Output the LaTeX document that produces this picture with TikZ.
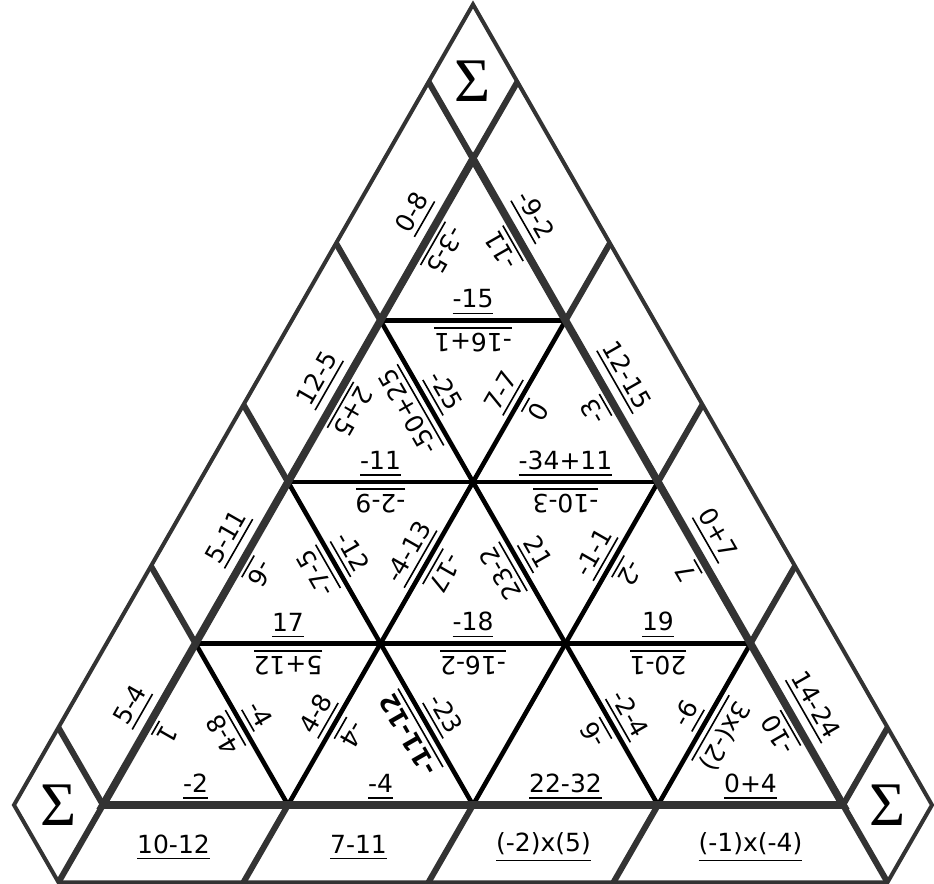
\documentclass[tikz,border=0pt]{standalone}
\usepackage{fontspec}
\setmainfont{DejaVu Sans}
\newfontfamily\sigmafont{Liberation Serif}
\definecolor{rimgray}{HTML}{333333}
\newcommand{\lblfont}{\fontsize{12.5}{15}\selectfont}
\newcommand{\tline}[1]{\vtop{\hbox{#1}\kern2.2pt\hrule height 0.8pt}}

\tikzset{
  tileline/.style={black, line width=2.3pt},
  rim/.style={rimgray, line width=3.8pt},
  band/.style={rimgray, line width=2pt},
  cut/.style={rimgray, line width=3pt},
  ans/.style={sloped, allow upside down, above, inner sep=3pt, font=\lblfont},
  bandans/.style={ans, inner sep=5.5pt},
  bottomans/.style={inner sep=0pt, font=\lblfont},
  sig/.style={inner sep=0pt, font=\sigmafont\fontsize{31}{34}\selectfont},
}

\begin{document}
\begin{tikzpicture}[x=0.5pt, y=0.5pt]
    \useasboundingbox (0,0) rectangle (934,-884);

    \coordinate (v00) at (473,-159);
    \coordinate (v10) at (380.5,-320.5);
    \coordinate (v11) at (565.5,-320.5);
    \coordinate (v20) at (288,-482);
    \coordinate (v21) at (473,-482);
    \coordinate (v22) at (658,-482);
    \coordinate (v30) at (195.5,-643.5);
    \coordinate (v31) at (380.5,-643.5);
    \coordinate (v32) at (565.5,-643.5);
    \coordinate (v33) at (750.5,-643.5);
    \coordinate (v40) at (103,-805);
    \coordinate (v41) at (288,-805);
    \coordinate (v42) at (473,-805);
    \coordinate (v43) at (658,-805);
    \coordinate (v44) at (843,-805);

    \coordinate (left0) at (428.5,-81.7);
    \coordinate (left1) at (336,-243.2);
    \coordinate (left2) at (243.5,-404.7);
    \coordinate (left3) at (151,-566.2);
    \coordinate (left4) at (58.5,-727.7);
    \coordinate (right0) at (517.5,-81.7);
    \coordinate (right1) at (610,-243.2);
    \coordinate (right2) at (702.5,-404.7);
    \coordinate (right3) at (795,-566.2);
    \coordinate (right4) at (887.5,-727.7);
    \coordinate (low0) at (58.5,-882.3);
    \coordinate (low1) at (243.5,-882.3);
    \coordinate (low2) at (428.5,-882.3);
    \coordinate (low3) at (613.5,-882.3);
    \coordinate (low4) at (887.5,-882.3);
    \coordinate (tipT) at (473,-4.4);
    \coordinate (tipL) at (14,-805);
    \coordinate (tipR) at (932,-805);

    \draw[band] (tipL) -- (tipT) -- (tipR) -- (low4) -- (low0) -- cycle;

    \draw[cut] (v00) -- (left0);
    \draw[cut] (v10) -- (left1);
    \draw[cut] (v20) -- (left2);
    \draw[cut] (v30) -- (left3);
    \draw[cut] (v40) -- (left4);
    \draw[cut] (v00) -- (right0);
    \draw[cut] (v11) -- (right1);
    \draw[cut] (v22) -- (right2);
    \draw[cut] (v33) -- (right3);
    \draw[cut] (v44) -- (right4);
    \draw[cut] (v40) -- (low0);
    \draw[cut] (v41) -- (low1);
    \draw[cut] (v42) -- (low2);
    \draw[cut] (v43) -- (low3);
    \draw[cut] (v44) -- (low4);

    \draw[tileline] (v10) -- (v11);
    \draw[tileline] (v20) -- (v22);
    \draw[tileline] (v30) -- (v33);
    \draw[tileline] (v41) -- (v11);
    \draw[tileline] (v42) -- (v22);
    \draw[tileline] (v43) -- (v33);
    \draw[tileline] (v41) -- (v30);
    \draw[tileline] (v42) -- (v20);
    \draw[tileline] (v43) -- (v10);
    \draw[rim] (v00) -- (v40) -- (v44) -- cycle;

    \node[sig] (sigtop) at (473,-81) {Σ};
    \node[sig] (sigleft) at (58.5,-805) {Σ};
    \node[sig] (sigright) at (887.5,-805) {Σ};

    \path (v10) -- (v00) node[bandans, pos=0.59] (b1) {\tline{0-8}};
    \path (v20) -- (v10) node[bandans, pos=0.56] (b2) {\tline{12-5}};
    \path (v30) -- (v20) node[bandans, pos=0.58] (b3) {\tline{5-11}};
    \path (v40) -- (v30) node[bandans, pos=0.54] (b4) {\tline{5-4}};
    \path (v00) -- (v11) node[bandans, pos=0.43] (b5) {\tline{-9-2}};
    \path (v11) -- (v22) node[bandans, pos=0.42] (b6) {\tline{12-15}};
    \path (v22) -- (v33) node[bandans, pos=0.40] (b7) {\tline{0+7}};
    \path (v33) -- (v44) node[bandans, pos=0.46] (b8) {\tline{14-24}};
    \node[bottomans] (b9) at (173.5,-847) {\tline{10-12}};
    \node[bottomans] (b10) at (358.5,-847) {\tline{7-11}};
    \node[bottomans] (b11) at (543.5,-847) {\tline{(-2)x(5)}};
    \node[bottomans] (b12) at (750.5,-847) {\tline{(-1)x(-4)}};

    \path (v10) -- (v11) node[ans, midway] (a1) {\tline{-15}};
    \path (v11) -- (v00) node[ans, midway] (a2) {\tline{-11}};
    \path (v00) -- (v10) node[ans, midway] (a3) {\tline{-3-5}};

    \path (v20) -- (v21) node[ans, midway] (a4) {\tline{-11}};
    \path (v21) -- (v10) node[ans, midway] (a5) {\tline{-50+25}};
    \path (v10) -- (v20) node[ans, midway] (a6) {\tline{2+5}};
    \path (v11) -- (v10) node[ans, midway] (a7) {\tline{-16+1}};
    \path (v10) -- (v21) node[ans, midway] (a8) {\tline{-25}};
    \path (v21) -- (v11) node[ans, midway] (a9) {\tline{7-7}};
    \path (v21) -- (v22) node[ans, midway] (a10) {\tline{-34+11}};
    \path (v22) -- (v11) node[ans, midway] (a11) {\tline{-3}};
    \path (v11) -- (v21) node[ans, midway] (a12) {\tline{0}};

    \path (v30) -- (v31) node[ans, midway] (a13) {\tline{17}};
    \path (v31) -- (v20) node[ans, midway] (a14) {\tline{-7-5}};
    \path (v20) -- (v30) node[ans, midway] (a15) {\tline{-6}};
    \path (v21) -- (v20) node[ans, midway] (a16) {\tline{-2-9}};
    \path (v20) -- (v31) node[ans, midway] (a17) {\tline{-12}};
    \path (v31) -- (v21) node[ans, midway] (a18) {\tline{-4-13}};
    \path (v31) -- (v32) node[ans, midway] (a19) {\tline{-18}};
    \path (v32) -- (v21) node[ans, midway] (a20) {\tline{23-2}};
    \path (v21) -- (v31) node[ans, midway] (a21) {\tline{-17}};
    \path (v22) -- (v21) node[ans, midway] (a22) {\tline{-10-3}};
    \path (v21) -- (v32) node[ans, midway] (a23) {\tline{21}};
    \path (v32) -- (v22) node[ans, midway] (a24) {\tline{-1-1}};
    \path (v32) -- (v33) node[ans, midway] (a25) {\tline{19}};
    \path (v33) -- (v22) node[ans, midway] (a26) {\tline{7}};
    \path (v22) -- (v32) node[ans, midway] (a27) {\tline{-2}};

    \path (v40) -- (v41) node[ans, midway] (a28) {\tline{-2}};
    \path (v41) -- (v30) node[ans, midway] (a29) {\tline{4-8}};
    \path (v30) -- (v40) node[ans, midway] (a30) {\tline{1}};
    \path (v31) -- (v30) node[ans, midway] (a31) {\tline{5+12}};
    \path (v30) -- (v41) node[ans, midway] (a32) {\tline{-4}};
    \path (v41) -- (v31) node[ans, midway] (a33) {\tline{4-8}};
    \path (v41) -- (v42) node[ans, midway] (a34) {\tline{-4}};
    \path (v42) -- (v31) node[ans, midway] (a35) {\tline{\bfseries -11-12}};
    \path (v31) -- (v41) node[ans, midway] (a36) {\tline{-4}};
    \path (v32) -- (v31) node[ans, midway] (a37) {\tline{-16-2}};
    \path (v31) -- (v42) node[ans, midway] (a38) {\tline{-23}};
    \path (v42) -- (v43) node[ans, midway] (a39) {\tline{22-32}};
    \path (v43) -- (v32) node[ans, midway] (a40) {\tline{-6}};
    \path (v33) -- (v32) node[ans, midway] (a41) {\tline{20-1}};
    \path (v32) -- (v43) node[ans, midway] (a42) {\tline{-2-4}};
    \path (v43) -- (v33) node[ans, midway] (a43) {\tline{-6}};
    \path (v43) -- (v44) node[ans, midway] (a44) {\tline{0+4}};
    \path (v44) -- (v33) node[ans, midway] (a45) {\tline{-10}};
    \path (v33) -- (v43) node[ans, midway] (a46) {\tline{3x(-2)}};
\end{tikzpicture}
\end{document}
